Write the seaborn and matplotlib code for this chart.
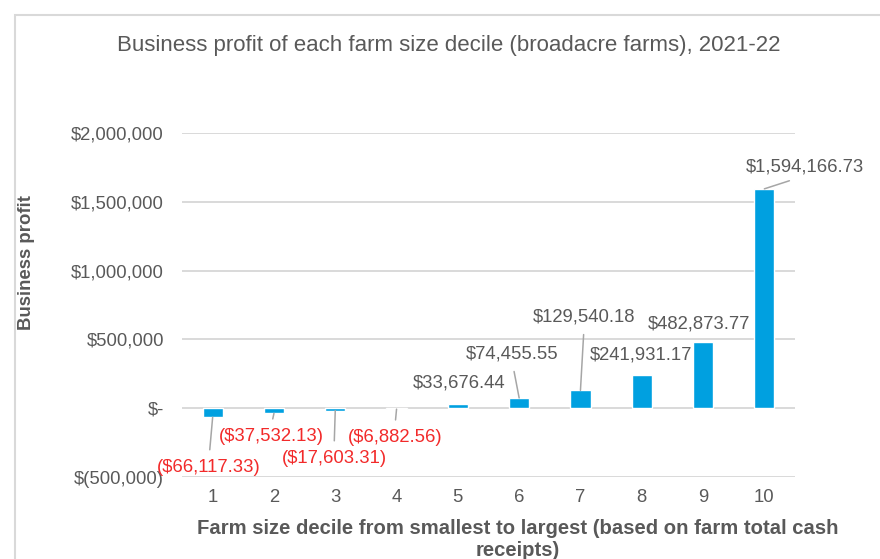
import matplotlib
matplotlib.use("Agg")
import matplotlib.pyplot as plt
from matplotlib.patches import Rectangle
import seaborn as sns
import pandas as pd

# Business profit by farm size decile, broadacre farms 2021-22
deciles = ["1", "2", "3", "4", "5", "6", "7", "8", "9", "10"]
profits = [-66117.33, -37532.13, -17603.31, -6882.56, 33676.44,
           74455.55, 129540.18, 241931.17, 482873.77, 1594166.73]
y_ticks = [-500000, 0, 500000, 1000000, 1500000, 2000000]
y_tick_labels = ["$(500,000)", "$-", "$500,000", "$1,000,000",
                 "$1,500,000", "$2,000,000"]

# where each value label sits (x offset in category units, y in data units)
# and whether a leader line joins it to its bar
label_place = [
    (-0.06, -428000, True),
    (-0.05, -203000, True),
    (-0.02, -363000, True),
    (-0.03, -211000, True),
    (0.02, 182000, False),
    (-0.11, 392000, True),
    (0.06, 661000, True),
    (-0.01, 385000, False),
    (-0.06, 610000, False),
    (0.66, 1751000, True),
]

GREY = "#595959"
RED = "#F22A2A"
BLUE = "#00A0E0"
FS = 13.3

sns.set_theme(style="white")
plt.rcParams["font.family"] = ["Liberation Sans", "DejaVu Sans"]

fig = plt.figure(figsize=(8.8, 5.59), dpi=100)
ax = fig.add_axes([182 / 880, 1 - 477 / 559, (795 - 182) / 880, (477 - 133) / 559])

df = pd.DataFrame({"decile": deciles, "profit": profits})
sns.barplot(data=df, x="decile", y="profit", order=deciles, color=BLUE,
            saturation=1, width=0.33, ax=ax, zorder=3)

ax.set_ylim(-500000, 2000000)
ax.set_xlim(-0.5, 9.5)
ax.set_yticks(y_ticks)
ax.set_yticklabels(y_tick_labels)
ax.yaxis.grid(True, color="#D9D9D9", linewidth=1.4, zorder=0)
ax.xaxis.grid(False)
for s in ax.spines.values():
    s.set_visible(False)
ax.tick_params(axis="y", length=0, pad=13, labelsize=FS, labelcolor=GREY)
ax.tick_params(axis="x", length=0, pad=9, labelsize=FS, labelcolor=GREY)

ax.set_ylabel("Business profit", fontsize=13.4, fontweight="bold", color=GREY)
ax.yaxis.set_label_coords((35 - 182) / 613, (477 - 262) / 344)
ax.set_xlabel("Farm size decile from smallest to largest (based on farm total cash\nreceipts)",
              fontsize=14.6, fontweight="bold", color=GREY, linespacing=1.2)
ax.xaxis.set_label_coords((518 - 182) / 613, -(539 - 477) / 344)
ax.xaxis.label.set_verticalalignment("center")


def money(v):
    s = "${:,.2f}".format(abs(v))
    return "(" + s + ")" if v < 0 else s


for i, (v, (dx, ty, leader)) in enumerate(zip(profits, label_place)):
    col = RED if v < 0 else GREY
    kw = dict(ha="center", va="center", fontsize=FS, color=col, zorder=5)
    if leader:
        # leader attaches to the label edge facing its bar
        rel = (0.5, 1.0) if v < 0 else (0.5, 0.0)
        ax.annotate(money(v), xy=(i, v), xytext=(i + dx, ty),
                    arrowprops=dict(arrowstyle="-", color="#A6A6A6", lw=1.1,
                                    shrinkA=4, shrinkB=0, relpos=rel),
                    **kw)
    else:
        ax.text(i + dx, ty, money(v), **kw)

fig.text(449 / 880, 1 - 45 / 559,
         "Business profit of each farm size decile (broadacre farms), 2021-22",
         ha="center", va="center", fontsize=16, color=GREY)

# chart area border
top = 1 - 15 / 559
fig.patches.append(Rectangle((15 / 880, -0.2), 1.2, top + 0.2,
                             transform=fig.transFigure, fill=False,
                             edgecolor="#D9D9D9", linewidth=1.5))

fig.savefig("out.png", dpi=100)
